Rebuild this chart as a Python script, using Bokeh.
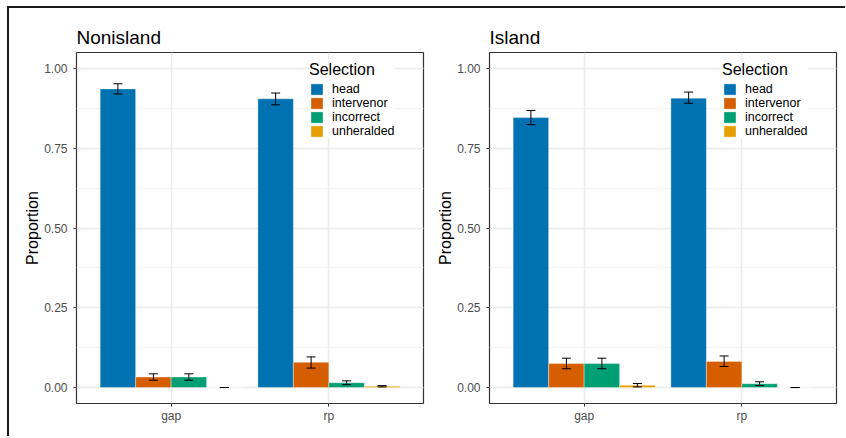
from bokeh.plotting import figure
from bokeh.models import (ColumnDataSource, FactorRange, Range1d, Whisker, TeeHead,
                          Legend, LegendItem, SingleIntervalTicker, NumeralTickFormatter)
from bokeh.transform import dodge
from bokeh.layouts import row
from bokeh.embed import file_html
from bokeh.resources import INLINE

# ---------------- data ----------------
conditions = ["gap", "rp"]
selections = ["head", "intervenor", "incorrect", "unheralded"]
colors = ["#0072B2", "#D55E00", "#009E73", "#E69F00"]

# Nonisland panel: mean, lower, upper for each selection (gap, rp)
non_head = [0.936, 0.905]
non_head_lo = [0.920, 0.886]
non_head_hi = [0.952, 0.923]
non_interv = [0.033, 0.079]
non_interv_lo = [0.023, 0.061]
non_interv_hi = [0.043, 0.096]
non_incorr = [0.033, 0.015]
non_incorr_lo = [0.023, 0.009]
non_incorr_hi = [0.043, 0.021]
non_unher = [0.000, 0.004]
non_unher_lo = [0.000, 0.002]
non_unher_hi = [0.000, 0.006]

# Island panel
isl_head = [0.846, 0.907]
isl_head_lo = [0.824, 0.891]
isl_head_hi = [0.868, 0.926]
isl_interv = [0.075, 0.082]
isl_interv_lo = [0.059, 0.066]
isl_interv_hi = [0.092, 0.099]
isl_incorr = [0.075, 0.012]
isl_incorr_lo = [0.059, 0.006]
isl_incorr_hi = [0.092, 0.018]
isl_unher = [0.007, 0.000]
isl_unher_lo = [0.002, 0.000]
isl_unher_hi = [0.0125, 0.000]

panels = [
    ("Nonisland", [(non_head, non_head_lo, non_head_hi),
                   (non_interv, non_interv_lo, non_interv_hi),
                   (non_incorr, non_incorr_lo, non_incorr_hi),
                   (non_unher, non_unher_lo, non_unher_hi)]),
    ("Island", [(isl_head, isl_head_lo, isl_head_hi),
                (isl_interv, isl_interv_lo, isl_interv_hi),
                (isl_incorr, isl_incorr_lo, isl_incorr_hi),
                (isl_unher, isl_unher_lo, isl_unher_hi)]),
]

FONT = "Liberation Sans"
bar_w = 0.225
offsets = [-0.3375, -0.1125, 0.1125, 0.3375]


def make_panel(title, series, width, border_left, border_right):
    p = figure(x_range=FactorRange(factors=conditions, range_padding=0.1,
                                   range_padding_units="absolute"),
               y_range=Range1d(-0.05, 1.05),
               width=width, height=428,
               min_border_left=border_left, min_border_right=border_right,
               min_border_top=44, min_border_bottom=33,
               output_backend="svg", toolbar_location=None,
               background_fill_color="white", border_fill_color="white")
    p.title.text = title
    p.title.text_font = FONT
    p.title.text_font_size = "19px"
    p.title.text_font_style = "normal"
    p.title.text_color = "black"
    p.title.align = "left"
    p.title.standoff = 10
    p.title.offset = 0

    p.outline_line_color = "#333333"
    p.outline_line_width = 1.2

    items = []
    for (mean, lo, hi), sel, col, off in zip(series, selections, colors, offsets):
        src = ColumnDataSource(dict(x=conditions, top=mean, lower=lo, upper=hi))
        r = p.vbar(x=dodge("x", off, range=p.x_range), top="top", bottom=0, width=bar_w,
                   source=src, fill_color=col, line_color="white", line_width=0.6,
                   line_alpha=0.6)
        w = Whisker(source=src, base=dodge("x", off, range=p.x_range), lower="lower",
                    upper="upper", line_color="black", line_width=1, level="overlay",
                    upper_head=TeeHead(size=9, line_color="black", line_width=1),
                    lower_head=TeeHead(size=9, line_color="black", line_width=1))
        p.add_layout(w)
        items.append(LegendItem(label=sel, renderers=[r]))

    legend = Legend(items=items, title="Selection", location=(233, 265),
                    title_text_font=FONT, title_text_font_size="16px",
                    title_text_font_style="normal", title_text_color="black",
                    title_standoff=3,
                    label_text_font=FONT, label_text_font_size="12.5px",
                    label_text_color="black",
                    glyph_width=15, glyph_height=14, label_height=12,
                    label_standoff=8, spacing=0, padding=5, margin=0,
                    background_fill_color="white", background_fill_alpha=1.0,
                    border_line_color=None, level="overlay")
    p.add_layout(legend)

    # y axis
    p.yaxis.ticker = SingleIntervalTicker(interval=0.25, num_minor_ticks=2)
    p.yaxis.formatter = NumeralTickFormatter(format="0.00")
    p.yaxis.axis_label = "Proportion"
    p.yaxis.axis_label_text_font = FONT
    p.yaxis.axis_label_text_font_size = "16px"
    p.yaxis.axis_label_text_font_style = "normal"
    p.yaxis.axis_label_text_color = "black"
    p.yaxis.axis_label_standoff = 0
    p.yaxis.major_label_standoff = 6
    p.yaxis.minor_tick_out = 0
    p.yaxis.minor_tick_in = 0

    for ax in (p.xaxis, p.yaxis):
        ax.axis_line_color = None
        ax.major_tick_out = 3
        ax.major_tick_in = 0
        ax.major_tick_line_color = "#333333"
        ax.major_label_text_font = FONT
        ax.major_label_text_font_size = "12px"
        ax.major_label_text_color = "#4D4D4D"
    p.xaxis.major_label_standoff = 2

    p.xgrid.grid_line_color = "#EBEBEB"
    p.xgrid.grid_line_width = 1.5
    p.ygrid.grid_line_color = "#EBEBEB"
    p.ygrid.grid_line_width = 1.5
    p.ygrid.minor_grid_line_color = "#F3F3F3"
    p.ygrid.minor_grid_line_width = 1.2
    return p


p1 = make_panel(panels[0][0], panels[0][1], 419, 67, 5)
p2 = make_panel(panels[1][0], panels[1][1], 417, 61, 9)

layout = row(p1, p2, styles={"margin-left": "7px", "margin-top": "6px",
                             "border-left": "2px solid #1a1a1a",
                             "border-top": "2px solid #1a1a1a"})

open("out.html", "w").write(file_html(layout, INLINE))
